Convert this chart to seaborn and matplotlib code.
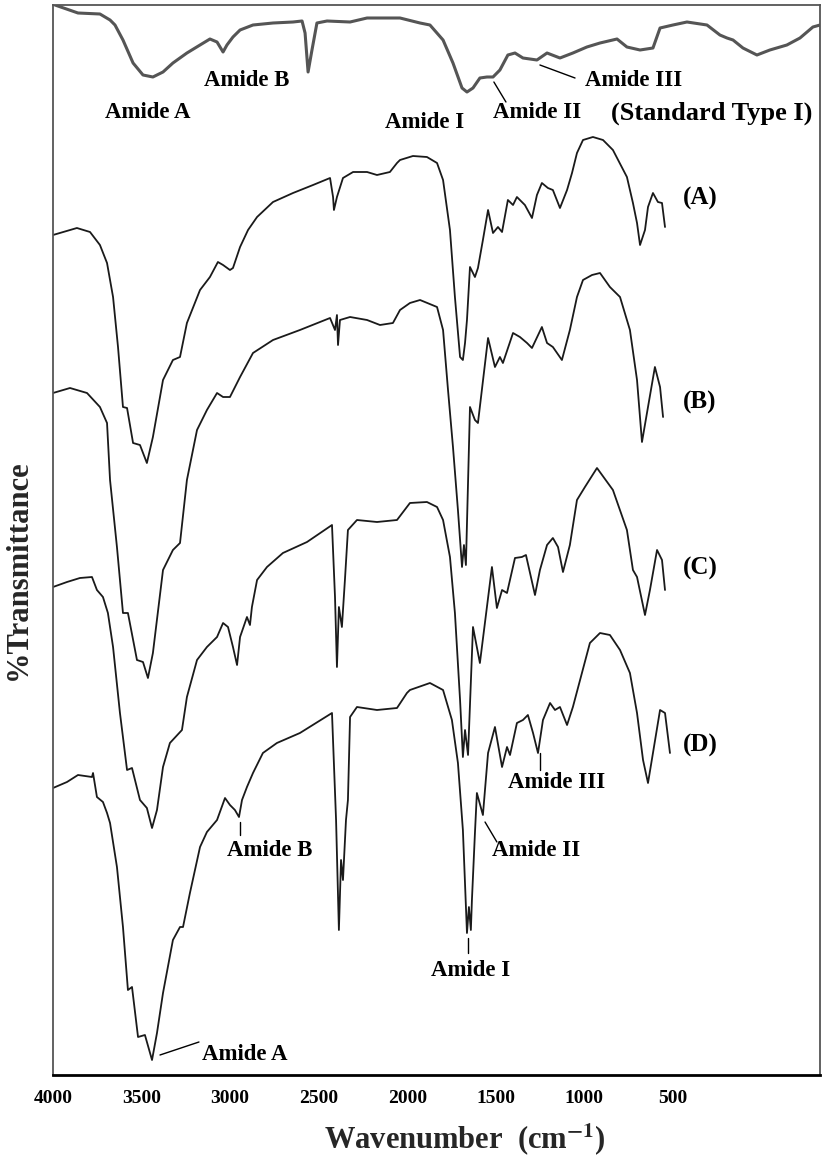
import numpy as np
import pandas as pd
import matplotlib
matplotlib.use('Agg')
import matplotlib.pyplot as plt
import seaborn as sns

# wavenumber (cm-1) and %T (arbitrary, stacked)
std_wn = [3989, 3859, 3735, 3678, 3650, 3605, 3548, 3492, 3436, 3379, 3323, 3244, 3170, 3114,
          3074, 3040, 3018, 2984, 2944, 2871, 2758, 2645, 2594, 2577, 2560, 2538, 2510, 2453,
          2323, 2227, 2041, 1928, 1872, 1798, 1742, 1691, 1663, 1629, 1590, 1550, 1516, 1477,
          1432, 1392, 1347, 1268, 1211, 1138, 1065, 986, 912, 816, 760, 686, 613, 573, 500,
          421, 308, 235, 195, 161, 105, 26, -47, -143, -217, -290, -330]
std_t = [107.0, 106.2, 106.1, 105.5, 105.0, 103.5, 101.2, 100.0, 99.8, 100.3, 101.2, 102.2, 103.0, 103.6,
         103.3, 102.3, 103.0, 103.8, 104.5, 105.0, 105.2, 105.3, 105.4, 104.2, 100.3, 102.5, 105.2, 105.4,
         105.3, 105.7, 105.7, 105.2, 105.0, 103.5, 101.2, 98.7, 98.3, 98.7, 99.7, 99.8, 99.8, 100.5,
         102.0, 102.2, 101.7, 101.5, 102.2, 101.7, 102.2, 102.8, 103.2, 103.6, 102.8, 102.5, 102.7, 104.7, 105.0,
         105.3, 105.0, 104.0, 103.7, 103.5, 102.7, 102.0, 102.5, 103.0, 103.7, 104.8, 105.0]

a_wn = [4000, 3865, 3791, 3735, 3695, 3661, 3633, 3605, 3582, 3548, 3509, 3470, 3436, 3379, 3323,
        3283, 3244, 3170, 3114, 3069, 3040, 3001, 2984, 2944, 2899, 2848, 2758, 2645, 2532, 2436,
        2419, 2414, 2397, 2363, 2306, 2227, 2171, 2098, 2058, 2041, 1968, 1889, 1832, 1798, 1759,
        1731, 1702, 1686, 1674, 1663, 1646, 1618, 1601, 1573, 1544, 1516, 1488, 1465, 1432, 1403,
        1381, 1336, 1296, 1268, 1240, 1206, 1178, 1138, 1098, 1070, 1042, 1008, 952, 895, 839, 760,
        726, 703, 686, 658, 641, 613, 585, 562, 545]
a_t = [84.0, 84.7, 84.3, 83.0, 81.2, 77.8, 72.8, 66.8, 66.7, 63.2, 63.0, 61.2, 63.8, 69.5, 71.5,
       71.8, 75.2, 78.5, 79.8, 81.3, 81.0, 80.5, 80.7, 82.8, 84.5, 85.8, 87.3, 88.2, 89.0, 89.7,
       87.8, 86.5, 87.8, 89.7, 90.3, 90.3, 90.0, 90.3, 91.2, 91.5, 91.9, 91.8, 91.2, 89.5, 84.5,
       77.8, 71.8, 71.5, 73.2, 75.5, 80.8, 79.8, 80.7, 83.5, 86.5, 84.2, 84.8, 84.3, 87.5, 87.0,
       87.8, 87.0, 85.7, 88.0, 89.2, 88.7, 88.5, 86.7, 88.5, 90.2, 92.2, 93.5, 93.8, 93.5, 92.5, 89.8,
       87.2, 85.2, 83.0, 84.5, 86.8, 88.2, 87.3, 87.2, 84.8]

b_wn = [4000, 3904, 3808, 3735, 3695, 3678, 3639, 3605, 3577, 3526, 3492, 3464, 3436, 3379, 3323,
        3283, 3244, 3187, 3131, 3074, 3040, 3001, 2944, 2871, 2758, 2606, 2436, 2408, 2397, 2391,
        2380, 2323, 2227, 2154, 2081, 2041, 1985, 1928, 1832, 1798, 1770, 1742, 1714, 1691, 1680,
        1669, 1646, 1618, 1601, 1544, 1505, 1477, 1460, 1403, 1364, 1324, 1296, 1240, 1211, 1178,
        1127, 1082, 1042, 1008, 957, 912, 856, 799, 743, 703, 675, 641, 602, 573, 556]
b_t = [68.2, 68.7, 68.2, 66.8, 65.2, 59.5, 52.8, 46.2, 46.2, 41.5, 41.3, 39.7, 42.2, 50.5, 52.5,
       53.2, 59.5, 64.5, 66.5, 68.2, 67.8, 67.8, 69.8, 72.2, 73.5, 74.5, 75.7, 74.5, 76.0, 73.0,
       75.5, 75.8, 75.5, 75.0, 75.2, 76.5, 77.2, 77.5, 76.8, 74.5, 68.5, 62.8, 56.5, 50.8, 53.0,
       51.0, 66.8, 65.5, 65.2, 73.7, 70.8, 71.8, 71.2, 74.2, 73.8, 73.2, 72.7, 74.8, 73.2, 72.8,
       71.5, 74.5, 77.8, 79.5, 80.0, 80.2, 78.8, 77.8, 74.5, 69.5, 63.3, 66.8, 70.8, 68.8, 65.8]

c_wn = [4000, 3921, 3848, 3780, 3752, 3718, 3690, 3661, 3622, 3582, 3554, 3509, 3470, 3441, 3413,
        3379, 3340, 3272, 3244, 3187, 3131, 3074, 3040, 3012, 2984, 2961, 2944, 2905, 2888, 2877,
        2848, 2792, 2702, 2566, 2425, 2408, 2397, 2386, 2369, 2352, 2335, 2284, 2171, 2058, 1985,
        1889, 1832, 1798, 1759, 1731, 1702, 1686, 1674, 1657, 1629, 1590, 1522, 1494, 1465, 1437,
        1392, 1353, 1330, 1279, 1251, 1211, 1178, 1149, 1121, 1082, 1042, 997, 929, 839, 760, 726,
        703, 658, 630, 590, 562, 545]
c_t = [48.8, 49.3, 49.7, 49.8, 48.5, 47.8, 46.2, 42.8, 36.2, 30.5, 30.7, 27.5, 26.7, 24.7, 26.5,
       30.8, 33.2, 34.5, 37.8, 41.5, 42.8, 43.8, 45.2, 44.8, 42.8, 41.0, 43.8, 45.8, 45.0, 46.8,
       49.5, 50.8, 52.2, 53.3, 55.0, 47.8, 40.8, 46.8, 44.8, 49.5, 54.5, 55.5, 55.3, 55.5, 57.2,
       57.3, 56.8, 55.5, 51.8, 46.2, 37.5, 31.8, 34.5, 32.0, 44.8, 41.2, 50.8, 46.7, 48.5, 48.2,
       51.7, 51.8, 52.0, 48.0, 50.5, 53.0, 53.7, 52.8, 50.3, 53.0, 57.5, 58.8, 60.7, 58.5, 54.5, 50.5,
       49.8, 46.0, 48.5, 52.5, 51.5, 48.5]

d_wn = [4000, 3921, 3859, 3780, 3774, 3752, 3718, 3695, 3678, 3639, 3605, 3577, 3554, 3520, 3481,
        3441, 3413, 3379, 3323, 3283, 3266, 3227, 3170, 3131, 3074, 3029, 3001, 2973, 2950, 2933,
        2905, 2871, 2815, 2736, 2606, 2425, 2402, 2386, 2374, 2363, 2346, 2335, 2323, 2284, 2171,
        2058, 2002, 1985, 1872, 1798, 1748, 1714, 1686, 1663, 1652, 1641, 1635, 1618, 1607, 1573,
        1544, 1505, 1465, 1437, 1420, 1381, 1347, 1319, 1290, 1262, 1234, 1194, 1166, 1138, 1098,
        1065, 1014, 969, 912, 856, 799, 743, 703, 669, 641, 613, 573, 545, 517]
d_t = [28.7, 29.3, 30.0, 29.8, 30.2, 27.8, 27.3, 26.2, 25.2, 20.8, 14.8, 8.5, 8.8, 3.8, 4.0,
       1.5, 4.2, 8.2, 13.5, 14.8, 14.8, 18.2, 22.8, 24.3, 25.5, 27.7, 27.0, 26.5, 25.8, 27.5,
       28.8, 30.2, 32.2, 33.2, 34.2, 36.2, 25.5, 14.5, 21.5, 19.5, 25.5, 27.5, 35.8, 36.8, 36.5,
       36.7, 38.2, 38.5, 39.2, 38.5, 35.5, 31.2, 24.5, 14.2, 16.8, 14.5, 17.5, 24.2, 28.2, 26.0,
       32.2, 34.8, 30.8, 32.8, 32.0, 35.2, 35.5, 36.0, 34.2, 32.2, 35.5, 37.2, 36.5, 36.8, 35.0,
       36.8, 40.2, 43.2, 44.2, 44.0, 42.5, 40.2, 36.2, 31.5, 29.2, 32.2, 36.5, 36.2, 32.2]

sample_names = ['(A)', '(B)', '(C)', '(D)']
sample_label_t = [87.7, 67.3, 50.7, 33.0]

sns.set_theme(style='white')
plt.rcParams['font.family'] = ['Liberation Serif', 'DejaVu Serif']
plt.rcParams['font.weight'] = 'bold'
plt.rcParams['mathtext.fontset'] = 'stix'

fig = plt.figure(figsize=(8.27, 11.70), dpi=100)
ax = fig.add_axes([53 / 827, 1 - 1075 / 1170, 767 / 827, 1070 / 1170])

sns.lineplot(x=std_wn, y=std_t, ax=ax, color='#555555', lw=2.2, sort=False, estimator=None)
for wn, t in [(a_wn, a_t), (b_wn, b_t), (c_wn, c_t), (d_wn, d_t)]:
    sns.lineplot(x=wn, y=t, ax=ax, color='#1a1a1a', lw=1.3, sort=False, estimator=None)

ax.set_xlim(4000, -330)
ax.set_ylim(0, 107)
ax.set_yticks([])
ax.set_xticks([4000, 3500, 3000, 2500, 2000, 1500, 1000, 500])
ax.set_xticks(np.arange(4000, 499, -100), minor=True)
ax.tick_params(axis='x', which='major', direction='in', length=6, width=1, colors='#777777',
               labelcolor='black', labelsize=14, pad=11)
ax.tick_params(axis='x', which='minor', direction='in', length=3, width=1, colors='#777777')
for lab in ax.get_xticklabels():
    lab.set_fontweight('bold')

for side in ['top', 'right', 'left']:
    ax.spines[side].set_color('#555555')
    ax.spines[side].set_linewidth(1.3)
ax.spines['bottom'].set_color('black')
ax.spines['bottom'].set_linewidth(2)

txt = dict(fontsize=16.5, fontweight='bold', ha='center', va='center', color='black')
# standard type I annotations
ax.text(3464, 96.3, 'Amide A', **txt)
ax.text(2905, 99.5, 'Amide B', **txt)
ax.text(1900, 95.3, 'Amide I', **txt)
ax.text(1268, 96.2, 'Amide II', **txt)
ax.text(720, 99.5, 'Amide III', **txt)
ax.text(280, 96.2, '(Standard Type I)', **dict(txt, fontsize=19))
ax.plot([1511, 1443], [99.3, 97.3], color='black', lw=1)
ax.plot([1251, 1053], [101.0, 99.7], color='black', lw=1)

for name, t in zip(sample_names, sample_label_t):
    ax.text(348, t, name, **dict(txt, fontsize=18))

# sample D annotations
ax.text(2775, 22.5, 'Amide B', **txt)
ax.text(2916, 2.0, 'Amide A', **txt)
ax.text(1274, 22.5, 'Amide II', **txt)
ax.text(1640, 10.5, 'Amide I', **txt)
ax.text(1155, 29.2, 'Amide III', **txt)
ax.plot([2944, 2944], [25.3, 24.0], color='black', lw=1)
ax.plot([3396, 3176], [2.0, 3.3], color='black', lw=1)
ax.plot([1561, 1494], [25.3, 23.3], color='black', lw=1)
ax.plot([1657, 1657], [13.7, 12.2], color='black', lw=1)
ax.plot([1251, 1251], [32.2, 30.5], color='black', lw=1)

ax.set_xlabel('')
ax.set_ylabel('')
fig.text(465 / 827, 1 - 1140 / 1170, r'Wavenumber  (cm$^{\mathbf{-1}}$)', fontsize=22,
         fontweight='bold', ha='center', va='center')
fig.text(18 / 827, 1 - 570 / 1170, '%Transmittance', fontsize=22, fontweight='bold',
         rotation=90, ha='center', va='center')

fig.savefig('out.png', dpi=100)
